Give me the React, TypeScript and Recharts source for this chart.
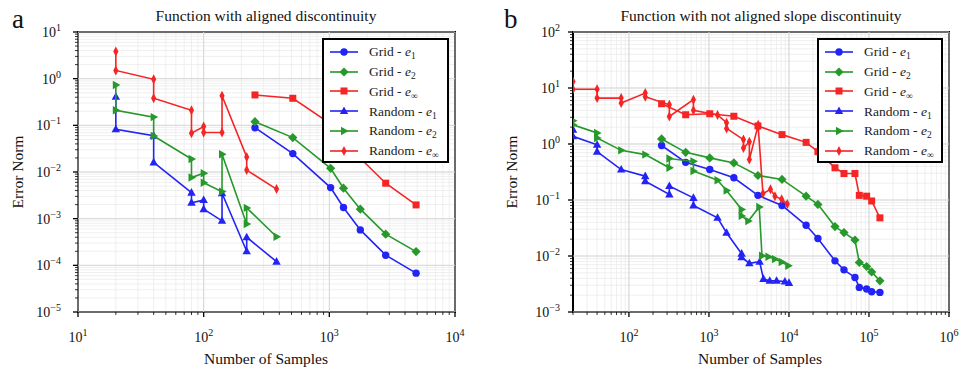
import React from "react";
import {
  ScatterChart,
  Scatter,
  XAxis,
  YAxis,
  CartesianGrid,
  ReferenceLine,
  ReferenceArea,
  Legend,
} from "recharts";

const FONT = '"Liberation Serif", "Times New Roman", serif';
const BLUE = "#2323f5";
const GREEN = "#26992a";
const RED = "#f52525";

// ---- panel a: function with aligned discontinuity ----
const gridNA = [256, 512, 1024, 1296, 1764, 2809, 4900];
const gridE1A = [0.089, 0.0248, 0.00463, 0.00173, 0.000575, 0.000165, 0.000068];
const gridE2A = [0.12, 0.0546, 0.012, 0.0045, 0.0016, 0.000466, 0.000197];
const gridEinfA = [0.448, 0.38, 0.107, 0.053, 0.0197, 0.00575, 0.00197];

const randNA = [20, 20, 40, 40, 80, 80, 100, 100, 140, 140, 220, 220, 380];
const randE1A = [0.41, 0.082, 0.06, 0.016, 0.0036, 0.0022, 0.0025, 0.0016, 0.0009, 0.0035, 0.0002, 0.0004, 0.00012];
const randE2A = [0.73, 0.21, 0.15, 0.059, 0.019, 0.0076, 0.0094, 0.0059, 0.0038, 0.024, 0.00077, 0.0017, 0.00041];
const randEinfA = [3.8, 1.5, 0.97, 0.38, 0.21, 0.068, 0.094, 0.07, 0.07, 0.43, 0.021, 0.011, 0.0043];

// ---- panel b: function with not aligned slope discontinuity ----
const gridNB = [256, 512, 1024, 2048, 4096, 8192, 16384, 23000, 37600, 48700, 66800, 75700, 93500, 108000, 137000];
const gridE1B = [0.94, 0.47, 0.35, 0.249, 0.121, 0.08, 0.0353, 0.0205, 0.0082, 0.00566, 0.00414, 0.00275, 0.00257, 0.0023, 0.00224];
const gridE2B = [1.23, 0.71, 0.565, 0.46, 0.274, 0.233, 0.117, 0.0835, 0.0335, 0.0262, 0.0193, 0.00765, 0.0065, 0.0052, 0.0036];
const gridEinfB = [5.24, 3.33, 3.47, 3.13, 2.1, 1.47, 1.07, 0.73, 0.376, 0.297, 0.297, 0.121, 0.117, 0.096, 0.048];

const randE1NB = [20, 20, 40, 40, 80, 160, 160, 320, 320, 640, 640, 1280, 1660, 2560, 2560, 3200, 4300, 4800, 5750, 7000, 8900, 10000];
const randE1B = [1.8, 1.37, 0.97, 0.73, 0.35, 0.266, 0.217, 0.126, 0.177, 0.109, 0.08, 0.048, 0.026, 0.011, 0.0095, 0.0074, 0.0079, 0.0039, 0.0036, 0.0036, 0.0035, 0.0033];
const randE2NB = [20, 20, 40, 40, 80, 160, 320, 320, 640, 640, 1280, 1660, 2560, 2560, 3100, 4250, 4600, 5540, 6680, 8100, 9800];
const randE2B = [2.6, 2.2, 1.58, 1.28, 0.77, 0.647, 0.376, 0.55, 0.49, 0.33, 0.225, 0.148, 0.068, 0.052, 0.042, 0.075, 0.0101, 0.0097, 0.0088, 0.0078, 0.0067];
const randEinfNB = [20, 20, 40, 40, 80, 80, 160, 160, 320, 320, 640, 640, 1280, 1660, 1660, 2700, 2700, 3200, 3200, 4130, 4130, 4730, 5870, 6680, 8100, 9530];
const randEinfB = [13, 9.5, 9.5, 6.6, 6.6, 5.4, 8.1, 7.0, 5.0, 3.1, 6.2, 4.0, 3.3, 2.4, 1.9, 1.2, 0.85, 1.1, 0.53, 2.2, 2.0, 0.13, 0.155, 0.117, 0.103, 0.085];

const legendNames = ["Grid - ", "Grid - ", "Grid - ", "Random - ", "Random - ", "Random - "];
const legendSubs = ["1", "2", "\u221e", "1", "2", "\u221e"];

const toPoints = (xs: number[], ys: number[]) => xs.map((x, i) => ({ x, y: ys[i] }));

const logTicks = (min: number, max: number) => {
  const out: number[] = [];
  for (let k = Math.floor(Math.log10(min)); k <= Math.ceil(Math.log10(max)); k++) {
    for (let m = 1; m <= 9; m++) {
      const v = +(m * Math.pow(10, k)).toPrecision(6);
      if (v >= min * 0.9999 && v <= max * 1.0001) out.push(v);
    }
  }
  return out;
};

const isMajor = (v: number) => Math.abs(Math.log10(v) - Math.round(Math.log10(v))) < 1e-9;
const expLabel = (v: number) => {
  const e = Math.round(Math.log10(v));
  return e < 0 ? "\u2212" + Math.abs(e) : String(e);
};

type Kind = "circle" | "diamond" | "square" | "triUp" | "triRight" | "thinDiamond";

const Marker = ({ kind, cx, cy, color }: { kind: Kind; cx: number; cy: number; color: string }) => {
  switch (kind) {
    case "circle":
      return <circle cx={cx} cy={cy} r={3.7} fill={color} />;
    case "diamond":
      return <path d={`M${cx},${cy - 4.6}L${cx + 4.6},${cy}L${cx},${cy + 4.6}L${cx - 4.6},${cy}Z`} fill={color} />;
    case "square":
      return <rect x={cx - 3.5} y={cy - 3.5} width={7} height={7} fill={color} />;
    case "triUp":
      return <path d={`M${cx},${cy - 4.6}L${cx + 4.2},${cy + 3}L${cx - 4.2},${cy + 3}Z`} fill={color} />;
    case "triRight":
      return <path d={`M${cx + 4.6},${cy}L${cx - 3},${cy - 4.2}L${cx - 3},${cy + 4.2}Z`} fill={color} />;
    default:
      return <path d={`M${cx},${cy - 5}L${cx + 2.6},${cy}L${cx},${cy + 5}L${cx - 2.6},${cy}Z`} fill={color} />;
  }
};

const kinds: Kind[] = ["circle", "diamond", "square", "triUp", "triRight", "thinDiamond"];
const colors = [BLUE, GREEN, RED, BLUE, GREEN, RED];

const seriesA = [
  toPoints(gridNA, gridE1A),
  toPoints(gridNA, gridE2A),
  toPoints(gridNA, gridEinfA),
  toPoints(randNA, randE1A),
  toPoints(randNA, randE2A),
  toPoints(randNA, randEinfA),
];

const seriesB = [
  toPoints(gridNB, gridE1B),
  toPoints(gridNB, gridE2B),
  toPoints(gridNB, gridEinfB),
  toPoints(randE1NB, randE1B),
  toPoints(randE2NB, randE2B),
  toPoints(randEinfNB, randEinfB),
];

const XTick = (props: any) => {
  const { x, y, payload } = props;
  const v = payload.value;
  const major = isMajor(v);
  return (
    <g>
      <line x1={x} x2={x} y1={y} y2={y + (major ? 5 : 3)} stroke="#000" strokeWidth={major ? 1.3 : 0.8} />
      {major && (
        <text x={x} y={y + 30} textAnchor="middle" fontFamily={FONT} fontSize={14} fill="#111">
          <tspan>10</tspan>
          <tspan dy={-6} fontSize={10}>{expLabel(v)}</tspan>
        </text>
      )}
    </g>
  );
};

const makeYTick = (gap: number) => (props: any) => {
  const { x, y, payload } = props;
  const v = payload.value;
  const major = isMajor(v);
  return (
    <g>
      <line x1={x} x2={x - (major ? 5 : 3)} y1={y} y2={y} stroke="#000" strokeWidth={major ? 1.3 : 0.8} />
      {major && (
        <text x={x - gap} y={y + 5} textAnchor="end" fontFamily={FONT} fontSize={14} fill="#111">
          <tspan>10</tspan>
          <tspan dy={-6} fontSize={10}>{expLabel(v)}</tspan>
        </text>
      )}
    </g>
  );
};

const LegendBox = ({ width }: { width: number }) => (
  <div
    style={{
      boxSizing: "border-box",
      width,
      height: 125,
      border: "2px solid #000",
      background: "#fff",
      paddingTop: 2,
      fontFamily: FONT,
      fontSize: 13.5,
      color: "#222",
    }}
  >
    {legendNames.map((name, i) => (
      <div key={i} style={{ display: "flex", alignItems: "center", height: 19.8 }}>
        <svg width={28} height={12} style={{ marginLeft: 6, flex: "none" }}>
          <line x1={0} x2={28} y1={6} y2={6} stroke={colors[i]} strokeWidth={1.6} />
          <Marker kind={kinds[i]} cx={14} cy={6} color={colors[i]} />
        </svg>
        <span style={{ marginLeft: 11, whiteSpace: "nowrap", lineHeight: 1 }}>
          {name}
          <i>e</i>
          <span style={{ fontSize: 9.5, position: "relative", top: 3 }}>{legendSubs[i]}</span>
        </span>
      </div>
    ))}
  </div>
);

type PanelProps = {
  series: { x: number; y: number }[][];
  xDomain: [number, number];
  yDomain: [number, number];
  width: number;
  margin: { top: number; right: number; bottom: number; left: number };
  labelGap: number;
  legendLeft: number;
  legendWidth: number;
};

const Panel = ({ series, xDomain, yDomain, width, margin, labelGap, legendLeft, legendWidth }: PanelProps) => {
  const xTicks = logTicks(xDomain[0], xDomain[1]);
  const yTicks = logTicks(yDomain[0], yDomain[1]);
  return (
    <ScatterChart width={width} height={376} margin={margin}>
      <CartesianGrid stroke="#ebebeb" strokeWidth={0.8} />
      {xTicks.filter(isMajor).map((v) => (
        <ReferenceLine key={"vx" + v} x={v} stroke="#d6d6d6" strokeWidth={1} />
      ))}
      {yTicks.filter(isMajor).map((v) => (
        <ReferenceLine key={"hy" + v} y={v} stroke="#d6d6d6" strokeWidth={1} />
      ))}
      <XAxis
        dataKey="x"
        type="number"
        scale="log"
        domain={xDomain}
        allowDataOverflow
        ticks={xTicks}
        interval={0}
        tickSize={0}
        tickMargin={0}
        height={30}
        axisLine={false}
        tick={XTick}
      />
      <YAxis
        dataKey="y"
        type="number"
        scale="log"
        domain={yDomain}
        allowDataOverflow
        ticks={yTicks}
        interval={0}
        tickSize={0}
        tickMargin={0}
        width={50}
        axisLine={false}
        tick={makeYTick(labelGap)}
      />
      {series.map((pts, i) => (
        <Scatter
          key={i}
          name={legendNames[i] + legendSubs[i]}
          data={pts}
          fill={colors[i]}
          line={{ stroke: colors[i], strokeWidth: 1.6 }}
          shape={(p: any) => <Marker kind={kinds[i]} cx={p.cx} cy={p.cy} color={colors[i]} />}
          isAnimationActive={false}
        />
      ))}
      <ReferenceArea
        x1={xDomain[0]}
        x2={xDomain[1]}
        y1={yDomain[0]}
        y2={yDomain[1]}
        fill="none"
        stroke="#000"
        strokeWidth={2}
        ifOverflow="visible"
      />
      <Legend
        layout="horizontal"
        verticalAlign="middle"
        align="center"
        wrapperStyle={{ left: legendLeft, top: 38, width: legendWidth }}
        content={() => <LegendBox width={legendWidth} />}
      />
    </ScatterChart>
  );
};

export default function App() {
  return (
    <div style={{ position: "absolute", left: 0, top: 0, width: 965, height: 376, background: "#fff" }}>
      <div style={{ position: "absolute", left: 0, top: 0 }}>
        <Panel
          series={seriesA}
          xDomain={[10, 10000]}
          yDomain={[1e-5, 10]}
          width={480}
          margin={{ top: 32, right: 25, bottom: 34, left: 28 }}
          labelGap={17}
          legendLeft={322}
          legendWidth={127}
        />
      </div>
      <div style={{ position: "absolute", left: 480, top: 0 }}>
        <Panel
          series={seriesB}
          xDomain={[20, 1e6]}
          yDomain={[1e-3, 100]}
          width={485}
          margin={{ top: 32, right: 16, bottom: 34, left: 43 }}
          labelGap={13}
          legendLeft={337}
          legendWidth={126}
        />
      </div>
      <svg
        width={965}
        height={376}
        style={{ position: "absolute", left: 0, top: 0, pointerEvents: "none" }}
        fontFamily={FONT}
        fill="#111"
      >
        <text x={12} y={28} fontSize={27}>a</text>
        <text x={504} y={28} fontSize={27}>b</text>
        <text x={266} y={21} fontSize={15.5} textAnchor="middle">Function with aligned discontinuity</text>
        <text x={761} y={21} fontSize={15.5} textAnchor="middle">Function with not aligned slope discontinuity</text>
        <text x={266} y={364} fontSize={15.5} textAnchor="middle">Number of Samples</text>
        <text x={760} y={364} fontSize={15.5} textAnchor="middle">Number of Samples</text>
        <text transform="translate(23,172) rotate(-90)" fontSize={15.5} textAnchor="middle">Error Norm</text>
        <text transform="translate(517,172) rotate(-90)" fontSize={15.5} textAnchor="middle">Error Norm</text>
      </svg>
    </div>
  );
}
